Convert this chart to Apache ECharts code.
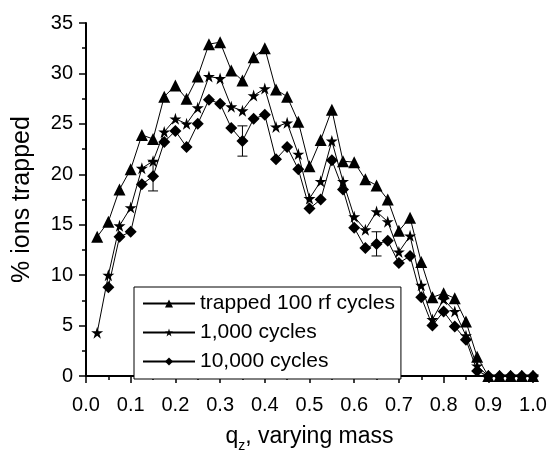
<!DOCTYPE html>
<html>
<head>
<meta charset="utf-8">
<script src="https://cdn.jsdelivr.net/npm/echarts@6/dist/echarts.min.js"></script>
<style>
  html, body { margin: 0; padding: 0; background: #fff; }
  #chart { width: 548px; height: 452px; }
</style>
</head>
<body>
<div id="chart"></div>
<script>
var qValues = [0.025, 0.05, 0.075, 0.1, 0.125, 0.15, 0.175, 0.2, 0.225, 0.25,
  0.275, 0.3, 0.325, 0.35, 0.375, 0.4, 0.425, 0.45, 0.475, 0.5,
  0.525, 0.55, 0.575, 0.6, 0.625, 0.65, 0.675, 0.7, 0.725, 0.75,
  0.775, 0.8, 0.825, 0.85, 0.875, 0.9, 0.925, 0.95, 0.975, 1.0];

var trapped100 = [13.8, 15.3, 18.5, 20.5, 23.9, 23.5, 27.7, 28.8, 27.5, 29.7,
  32.9, 33.1, 30.3, 29.3, 31.6, 32.5, 28.4, 27.7, 25.2, 20.8,
  23.4, 26.4, 21.3, 21.2, 19.5, 18.9, 17.5, 14.4, 15.7, 11.3,
  7.8, 8.2, 7.7, 5.4, 1.9, 0, 0, 0, 0, 0];

var cycles1000 = [4.3, 10.0, 14.9, 16.7, 20.6, 21.3, 24.2, 25.5, 25.0, 26.6,
  29.7, 29.5, 26.7, 26.3, 27.8, 28.5, 24.7, 25.1, 22.0, 17.6,
  19.3, 23.3, 19.3, 15.8, 14.5, 16.3, 15.3, 12.3, 13.9, 9.0,
  5.6, 7.6, 6.4, 4.0, 1.0, 0, 0, 0, 0, 0];

var cycles10000 = [null, 8.8, 13.8, 14.3, 19.0, 19.8, 23.2, 24.3, 22.7, 25.0,
  27.4, 27.0, 24.6, 23.3, 25.5, 25.9, 21.5, 22.7, 20.5, 16.6,
  17.5, 21.4, 18.5, 14.7, 12.7, 13.1, 13.4, 11.2, 11.9, 7.8,
  5.0, 6.4, 4.9, 3.6, 0.5, 0, 0, 0, 0, 0];

// error bars on the 10,000 cycle curve
var errQ = [0.15, 0.35, 0.65];
var errY = [19.8, 23.3, 13.1];
var errSize = [1.45, 1.5, 1.2];

var xTicks = ['0.0', '0.1', '0.2', '0.3', '0.4', '0.5', '0.6', '0.7', '0.8', '0.9', '1.0'];

var starPath = 'path://M50,0 L61.8,35.5 L100,35.5 L69.1,57.5 L80.9,93 L50,71 L19.1,93 L30.9,57.5 L0,35.5 L38.2,35.5 Z';
var font = 'Liberation Sans, Arial, sans-serif';

function pairs(ys) {
  return qValues.map(function (q, i) { return [q, ys[i]]; });
}

function lineSeries(name, ys, symbol, size) {
  return {
    name: name,
    type: 'line',
    data: pairs(ys),
    symbol: symbol,
    symbolSize: size,
    connectNulls: false,
    itemStyle: { color: '#000' },
    lineStyle: { color: '#000', width: 1 },
    emphasis: { disabled: true },
    clip: false,
    z: 3
  };
}

var myChart = echarts.init(document.getElementById('chart'));

myChart.setOption({
  animation: false,
  backgroundColor: '#fff',
  grid: { left: 86, right: 15, top: 23, bottom: 76, outerBoundsMode: 'none' },
  legend: {
    orient: 'vertical',
    left: 134,
    top: 287,
    padding: [6, 6, 7, 8],
    itemGap: 8,
    itemWidth: 52,
    itemHeight: 10,
    borderColor: '#000',
    borderWidth: 1,
    backgroundColor: '#fff',
    textStyle: { color: '#000', fontSize: 21, fontFamily: font },
    data: ['trapped 100 rf cycles', '1,000 cycles', '10,000 cycles']
  },
  xAxis: {
    type: 'value',
    min: 0,
    max: 1,
    interval: 0.1,
    name: '{m|q}{s|z}{m|, varying mass}',
    nameLocation: 'middle',
    nameGap: 49,
    nameTextStyle: {
      rich: {
        m: { fontSize: 23, fontFamily: font, color: '#000', verticalAlign: 'bottom', padding: [0, 0, 5, 0] },
        s: { fontSize: 14, fontFamily: font, color: '#000', verticalAlign: 'bottom' }
      }
    },
    axisLine: { lineStyle: { color: '#000', width: 2 } },
    axisTick: { inside: false, length: 7, lineStyle: { color: '#000', width: 1.5 } },
    minorTick: { show: true, splitNumber: 2, length: 4, lineStyle: { color: '#000', width: 1.5 } },
    splitLine: { show: false },
    axisLabel: {
      color: '#000', fontSize: 20, fontFamily: font, margin: 19,
      formatter: function (v) { return xTicks[Math.round(v * 10)]; }
    }
  },
  yAxis: {
    type: 'value',
    min: 0,
    max: 35,
    interval: 5,
    name: '% ions trapped',
    nameLocation: 'middle',
    nameGap: 51,
    nameTextStyle: { color: '#000', fontSize: 25, fontFamily: font },
    axisLine: { show: true, lineStyle: { color: '#000', width: 2 } },
    axisTick: { show: true, inside: false, length: 7, lineStyle: { color: '#000', width: 1.5 } },
    minorTick: { show: true, splitNumber: 2, length: 4, lineStyle: { color: '#000', width: 1.5 } },
    splitLine: { show: false },
    axisLabel: { color: '#000', fontSize: 20, fontFamily: font, margin: 13 }
  },
  series: [
    lineSeries('trapped 100 rf cycles', trapped100, 'triangle', 12),
    lineSeries('1,000 cycles', cycles1000, starPath, 12),
    lineSeries('10,000 cycles', cycles10000, 'diamond', 12),
    {
      type: 'custom',
      data: errQ.map(function (q, i) { return [q, errY[i], errSize[i]]; }),
      z: 4,
      renderItem: function (params, api) {
        var top = api.coord([api.value(0), api.value(1) + api.value(2)]);
        var bot = api.coord([api.value(0), api.value(1) - api.value(2)]);
        var st = { stroke: '#000', lineWidth: 1 };
        return {
          type: 'group',
          children: [
            { type: 'line', shape: { x1: top[0], y1: top[1], x2: bot[0], y2: bot[1] }, style: st },
            { type: 'line', shape: { x1: top[0] - 5, y1: top[1], x2: top[0] + 5, y2: top[1] }, style: st },
            { type: 'line', shape: { x1: bot[0] - 5, y1: bot[1], x2: bot[0] + 5, y2: bot[1] }, style: st }
          ]
        };
      }
    }
  ]
});
</script>
</body>
</html>
